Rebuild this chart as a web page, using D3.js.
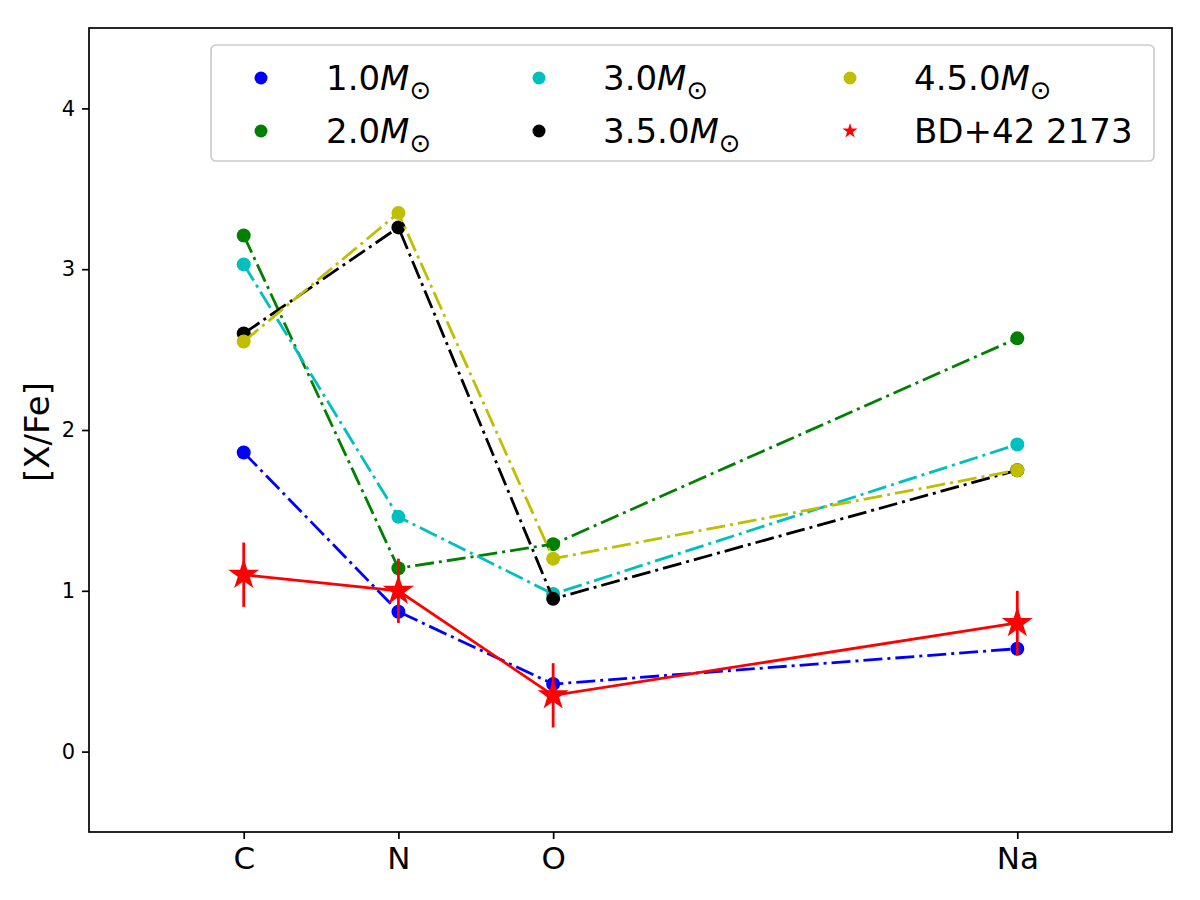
<!DOCTYPE html>
<html>
<head>
<meta charset="utf-8">
<script src="https://cdn.jsdelivr.net/npm/d3@7"></script>
<style>
  body { margin: 0; background: #fff; }
  svg text { font-family: "DejaVu Sans", sans-serif; }
</style>
</head>
<body>
<div id="chart"></div>
<script>
// elements, placed by atomic number
const elements = ["C", "N", "O", "Na"];
const atomicNumbers = [6, 7, 8, 11];

// model yields [X/Fe]
const models = ["1.0", "2.0", "3.0", "3.5.0", "4.5.0"];
const modelColors = ["#0000ff", "#008000", "#00bfbf", "#000000", "#bfbf00"];
const m10 = [1.86, 0.87, 0.42, 0.64];
const m20 = [3.21, 1.14, 1.29, 2.57];
const m30 = [3.03, 1.46, 0.98, 1.91];
const m35 = [2.60, 3.26, 0.95, 1.75];
const m45 = [2.55, 3.35, 1.20, 1.75];
const modelValues = [m10, m20, m30, m35, m45];

// observed star
const starName = "BD+42 2173";
const starValues = [1.10, 1.00, 0.35, 0.80];
const starErrors = [0.20, 0.20, 0.20, 0.20];

const yTicks = [0, 1, 2, 3, 4];

const width = 1200, height = 900;
const svg = d3.select("#chart").append("svg")
    .attr("width", width).attr("height", height);

const x = d3.scaleLinear().domain([5, 12]).range([89, 1172]);
const y = d3.scaleLinear().domain([-0.5, 4.5]).range([832, 28]);

const plot = svg.append("g");
const line = d3.line().x(d => x(d[0])).y(d => y(d[1]));
const lw = 2.8;
const dashDot = "19,5,3,5";

// model curves
modelValues.forEach((vals, i) => {
    const pts = atomicNumbers.map((z, j) => [z, vals[j]]);
    plot.append("path")
        .attr("d", line(pts))
        .attr("fill", "none")
        .attr("stroke", modelColors[i])
        .attr("stroke-width", lw)
        .attr("stroke-dasharray", dashDot);
    plot.selectAll(null).data(pts).enter().append("circle")
        .attr("cx", d => x(d[0]))
        .attr("cy", d => y(d[1]))
        .attr("r", 7)
        .attr("fill", modelColors[i]);
});

// observed abundances
const starPts = atomicNumbers.map((z, j) => [z, starValues[j], starErrors[j]]);
plot.append("path")
    .attr("d", line(starPts))
    .attr("fill", "none")
    .attr("stroke", "#ff0000")
    .attr("stroke-width", lw);
plot.selectAll(null).data(starPts).enter().append("line")
    .attr("x1", d => x(d[0])).attr("x2", d => x(d[0]))
    .attr("y1", d => y(d[1] - d[2])).attr("y2", d => y(d[1] + d[2]))
    .attr("stroke", "#ff0000")
    .attr("stroke-width", lw);
const bigStar = d3.symbol().type(d3.symbolStar).size(300);
plot.selectAll(null).data(starPts).enter().append("path")
    .attr("d", bigStar)
    .attr("transform", d => `translate(${x(d[0])},${y(d[1])})`)
    .attr("fill", "#ff0000");

// frame
svg.append("rect")
    .attr("x", 89).attr("y", 28)
    .attr("width", 1172 - 89).attr("height", 832 - 28)
    .attr("fill", "none").attr("stroke", "#000").attr("stroke-width", 1.7);

// axes
const yAxis = svg.append("g")
    .attr("transform", "translate(89,0)")
    .call(d3.axisLeft(y).tickValues(yTicks).tickSize(7).tickPadding(7).tickFormat(d3.format("d")));
yAxis.select(".domain").remove();
yAxis.selectAll("line").attr("stroke-width", 1.7);
yAxis.selectAll("text").attr("font-size", 21).attr("fill", "#000");

const xAxis = svg.append("g")
    .attr("transform", "translate(0,832)")
    .call(d3.axisBottom(x).tickValues(atomicNumbers).tickSize(7).tickPadding(8)
        .tickFormat((d, i) => elements[i]));
xAxis.select(".domain").remove();
xAxis.selectAll("line").attr("stroke-width", 1.7);
xAxis.selectAll("text").attr("font-size", 31).attr("fill", "#000");

svg.append("text")
    .attr("transform", "translate(49,432) rotate(-90)")
    .attr("text-anchor", "middle")
    .attr("font-size", 34)
    .text("[X/Fe]");

// legend
const legend = svg.append("g");
legend.append("rect")
    .attr("x", 211).attr("y", 45).attr("width", 943).attr("height", 116)
    .attr("rx", 5)
    .attr("fill", "#fff").attr("fill-opacity", 0.8)
    .attr("stroke", "#cccccc").attr("stroke-width", 1.7);

const entries = models.map((m, i) => ({ label: m, color: modelColors[i], star: false }))
    .concat([{ label: starName, color: "#ff0000", star: true }]);
const colX = [261, 539, 850];
const colTextX = [326, 603, 914];
const rowY = [78, 131];
const smallStar = d3.symbol().type(d3.symbolStar).size(70);

entries.forEach((e, i) => {
    const col = Math.floor(i / 2), row = i % 2;
    if (e.star) {
        legend.append("path")
            .attr("d", smallStar)
            .attr("transform", `translate(${colX[col]},${rowY[row]})`)
            .attr("fill", e.color);
    } else {
        legend.append("circle")
            .attr("cx", colX[col]).attr("cy", rowY[row])
            .attr("r", 6.5)
            .attr("fill", e.color);
    }
    const t = legend.append("text")
        .attr("x", colTextX[col]).attr("y", rowY[row] + 12)
        .attr("font-size", 34);
    if (e.star) {
        t.text(e.label);
    } else {
        t.append("tspan").text(e.label);
        t.append("tspan").attr("font-style", "italic").text("M");
        t.append("tspan").attr("font-size", 26).attr("dy", 9).text("\u2299");
    }
});
</script>
</body>
</html>
